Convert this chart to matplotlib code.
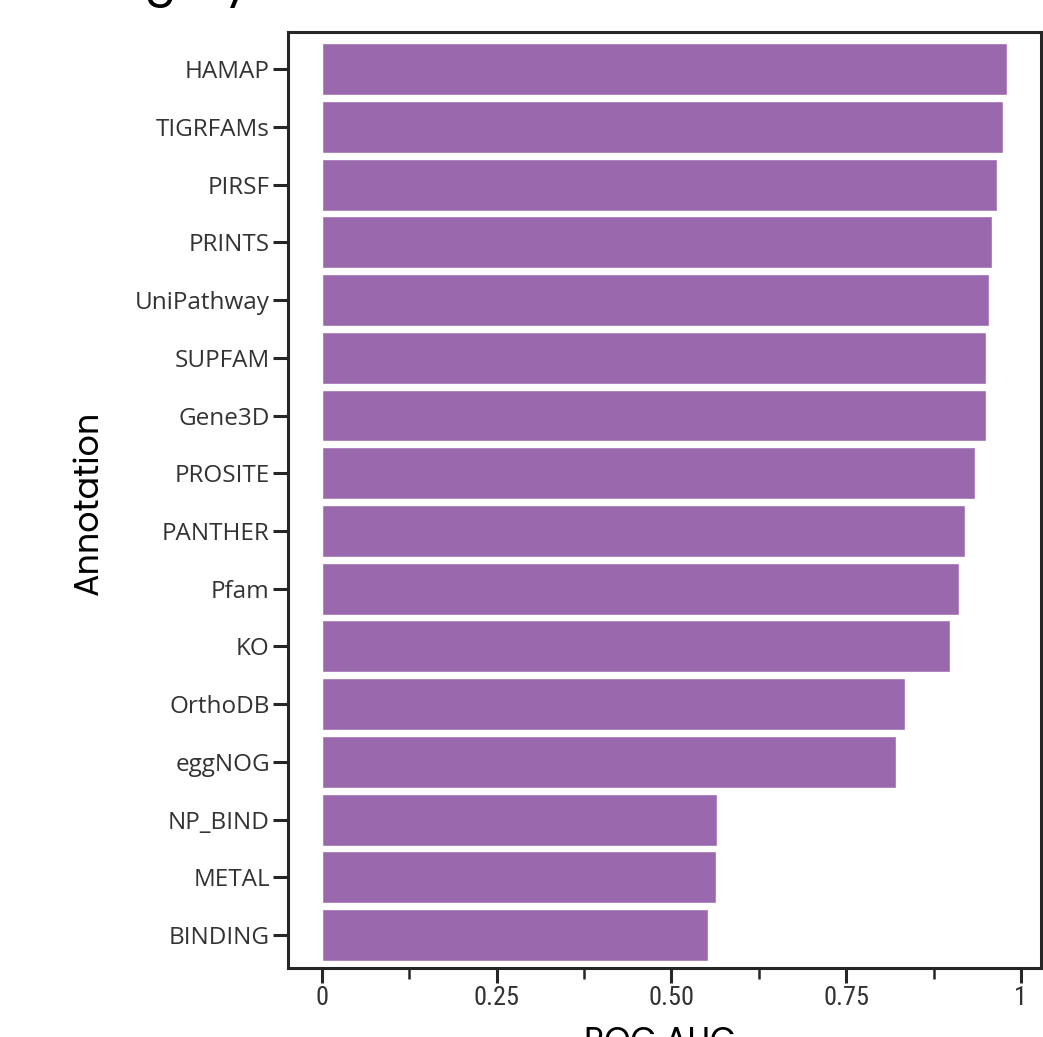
import matplotlib.pyplot as plt
from matplotlib.ticker import MultipleLocator, FixedLocator

labels = ['HAMAP', 'TIGRFAMs', 'PIRSF', 'PRINTS', 'UniPathway', 'SUPFAM', 'Gene3D',
          'PROSITE', 'PANTHER', 'Pfam', 'KO', 'OrthoDB', 'eggNOG', 'NP_BIND',
          'METAL', 'BINDING']
auc = [0.980, 0.974, 0.966, 0.959, 0.954, 0.950, 0.950,
       0.934, 0.920, 0.911, 0.898, 0.834, 0.821, 0.565, 0.564, 0.552]
xticks = [0, 0.25, 0.5, 0.75, 1]
xticklabels = ['0', '0.25', '0.50', '0.75', '1']

bar_color = '#9a69ad'
dark = '#262626'
title_font = ['Poppins', 'Lato', 'DejaVu Sans']

fig = plt.figure(figsize=(10.43, 10.37), dpi=100)
ax = fig.add_axes([0.276, 0.0665, 0.722, 0.9025])

ypos = list(range(len(labels)))
ax.barh(ypos, auc, height=0.9, color=bar_color, edgecolor='white', linewidth=1)

ax.set_ylim(15.57, -0.64)
ax.set_xlim(-0.0486, 1.0286)
ax.set_yticks(ypos)
ax.set_yticklabels(labels, fontsize=17.5, family=['Open Sans', 'DejaVu Sans'], color='#333333')
ax.xaxis.set_major_locator(FixedLocator(xticks))
ax.set_xticklabels(xticklabels, fontsize=19, weight='normal',
                   family=['Roboto Condensed', 'DejaVu Sans'], color='#333333')
ax.xaxis.set_minor_locator(MultipleLocator(0.125))

ax.tick_params(axis='both', which='major', length=11, width=2.2, color=dark, pad=2)
ax.tick_params(axis='x', which='minor', length=8, width=1.8, color=dark)
ax.tick_params(axis='y', which='minor', left=False)

for s in ax.spines.values():
    s.set_linewidth(2.2)
    s.set_color(dark)

fig.text(90 / 1043, 1 - 503 / 1037, 'Annotation', rotation=90, ha='center', va='center',
         fontsize=24, weight='normal', family=title_font, color='black')
fig.text(660 / 1043, 1 - 1026 / 1037, 'ROC AUC', ha='center', va='top',
         fontsize=24, weight='normal', family=title_font, color='black')
fig.text(30 / 1043, 1 + 4 / 1037, 'Category', ha='left', va='baseline',
         fontsize=34, weight='normal', family=title_font, color='black')

fig.savefig('out.png', dpi=100)
